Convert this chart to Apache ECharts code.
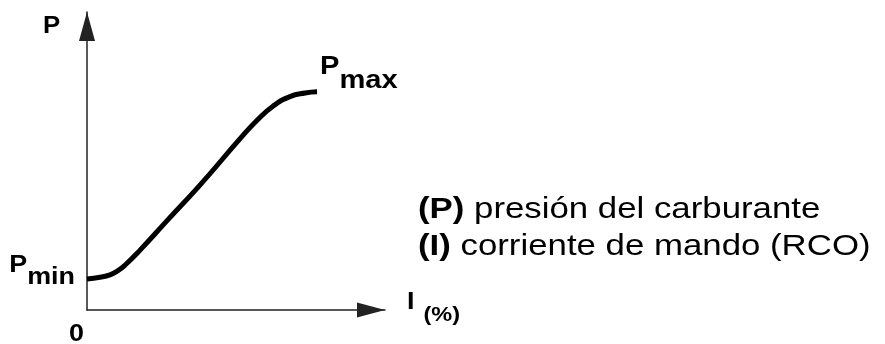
<!DOCTYPE html>
<html>
<head>
<meta charset="utf-8">
<script src="https://cdn.jsdelivr.net/npm/echarts@6/dist/echarts.min.js"></script>
<style>
  html, body { margin: 0; padding: 0; background: #fff; }
  #main { width: 885px; height: 344px; }
</style>
</head>
<body>
<div id="main"></div>
<script>
// curva presión / corriente (I en %, P en % del recorrido del eje)
var corriente = [0, 4.4, 7.7, 10.4, 12.8, 17.8, 26.8, 37.9, 51.3, 57.0, 62.4, 68.1, 73.2, 77.2];
var presion   = [10.4, 11.0, 11.8, 13.2, 15.1, 20.1, 29.9, 41.9, 57.4, 63.6, 68.4, 71.6, 72.8, 73.2];
var leyenda = [
  ['(P)', ' presión del carburante'],
  ['(I)', ' corriente de mando (RCO)']
];

var fuente = 'Liberation Sans, Arial, sans-serif';
var ancho = 1.12; // el original tiene las letras algo mas anchas
var datos = [];
for (var i = 0; i < corriente.length; i++) {
  datos.push([corriente[i], presion[i]]);
}

var myChart = echarts.init(document.getElementById('main'));

var ejeLinea = {
  show: true,
  onZero: false,
  symbol: ['none', 'triangle'],
  lineStyle: { color: '#222', width: 1.5 }
};

var option = {
  animation: false,
  backgroundColor: '#fff',
  grid: { left: 87, right: 500, top: 12, bottom: 34, containLabel: false },
  xAxis: {
    type: 'value', min: 0, max: 100,
    axisLine: Object.assign({}, ejeLinea, { symbolSize: [15, 28], symbolOffset: [0, -14] }),
    axisTick: { show: false }, axisLabel: { show: false }, splitLine: { show: false }
  },
  yAxis: {
    type: 'value', min: 0, max: 100,
    axisLine: Object.assign({}, ejeLinea, { symbolSize: [16, 29], symbolOffset: [0, -14.5] }),
    axisTick: { show: false }, axisLabel: { show: false }, splitLine: { show: false }
  },
  series: [{
    type: 'line',
    data: datos,
    smooth: 0.5,
    showSymbol: false,
    lineStyle: { color: '#000', width: 5, cap: 'butt' }
  }]
};

myChart.setOption(option);

// textos: P min / P max pegados a los extremos de la curva
var ini = myChart.convertToPixel({ gridIndex: 0 }, datos[0]);
var fin = myChart.convertToPixel({ gridIndex: 0 }, datos[datos.length - 1]);

function subindice(tam, alto) {
  return {
    p: { font: 'bold ' + tam + 'px ' + fuente, fill: '#000', verticalAlign: 'top', lineHeight: alto },
    s: { font: 'bold ' + tam + 'px ' + fuente, fill: '#000', verticalAlign: 'bottom', lineHeight: alto }
  };
}

myChart.setOption({
  graphic: [
    { type: 'text', x: 43, y: 15, scaleX: ancho,
      style: { text: 'P', font: 'bold 23px ' + fuente, fill: '#000', verticalAlign: 'top' } },
    { type: 'text', x: 69, y: 322, scaleX: ancho,
      style: { text: '0', font: 'bold 24px ' + fuente, fill: '#000', verticalAlign: 'top' } },
    { type: 'text', x: ini[0] - 12, y: ini[1] - 26, scaleX: ancho,
      style: { text: '{p|P}{s|min}', align: 'right', verticalAlign: 'top', rich: subindice(24, 36) } },
    { type: 'text', x: fin[0] + 3, y: fin[1] - 38, scaleX: ancho,
      style: { text: '{p|P}{s|max}', align: 'left', verticalAlign: 'top', rich: subindice(26, 40) } },
    { type: 'text', x: 407, y: 290, scaleX: ancho,
      style: { text: '{a|I}{b|(%)}', verticalAlign: 'top', rich: {
        a: { font: 'bold 24px ' + fuente, fill: '#000', verticalAlign: 'top', lineHeight: 36 },
        b: { font: 'bold 21px ' + fuente, fill: '#000', verticalAlign: 'bottom', lineHeight: 36, padding: [0, 0, 0, 8] }
      } } },
    { type: 'text', x: 418, y: 191, scaleX: 1.16,
      style: {
        text: '{b|' + leyenda[0][0] + '}{n|' + leyenda[0][1] + '}\n{b|' + leyenda[1][0] + '}{n|' + leyenda[1][1] + '}',
        verticalAlign: 'top',
        rich: {
          b: { font: 'bold 30px ' + fuente, fill: '#000', lineHeight: 37 },
          n: { font: '30px ' + fuente, fill: '#000', lineHeight: 37 }
        }
      } }
  ]
});
</script>
</body>
</html>
